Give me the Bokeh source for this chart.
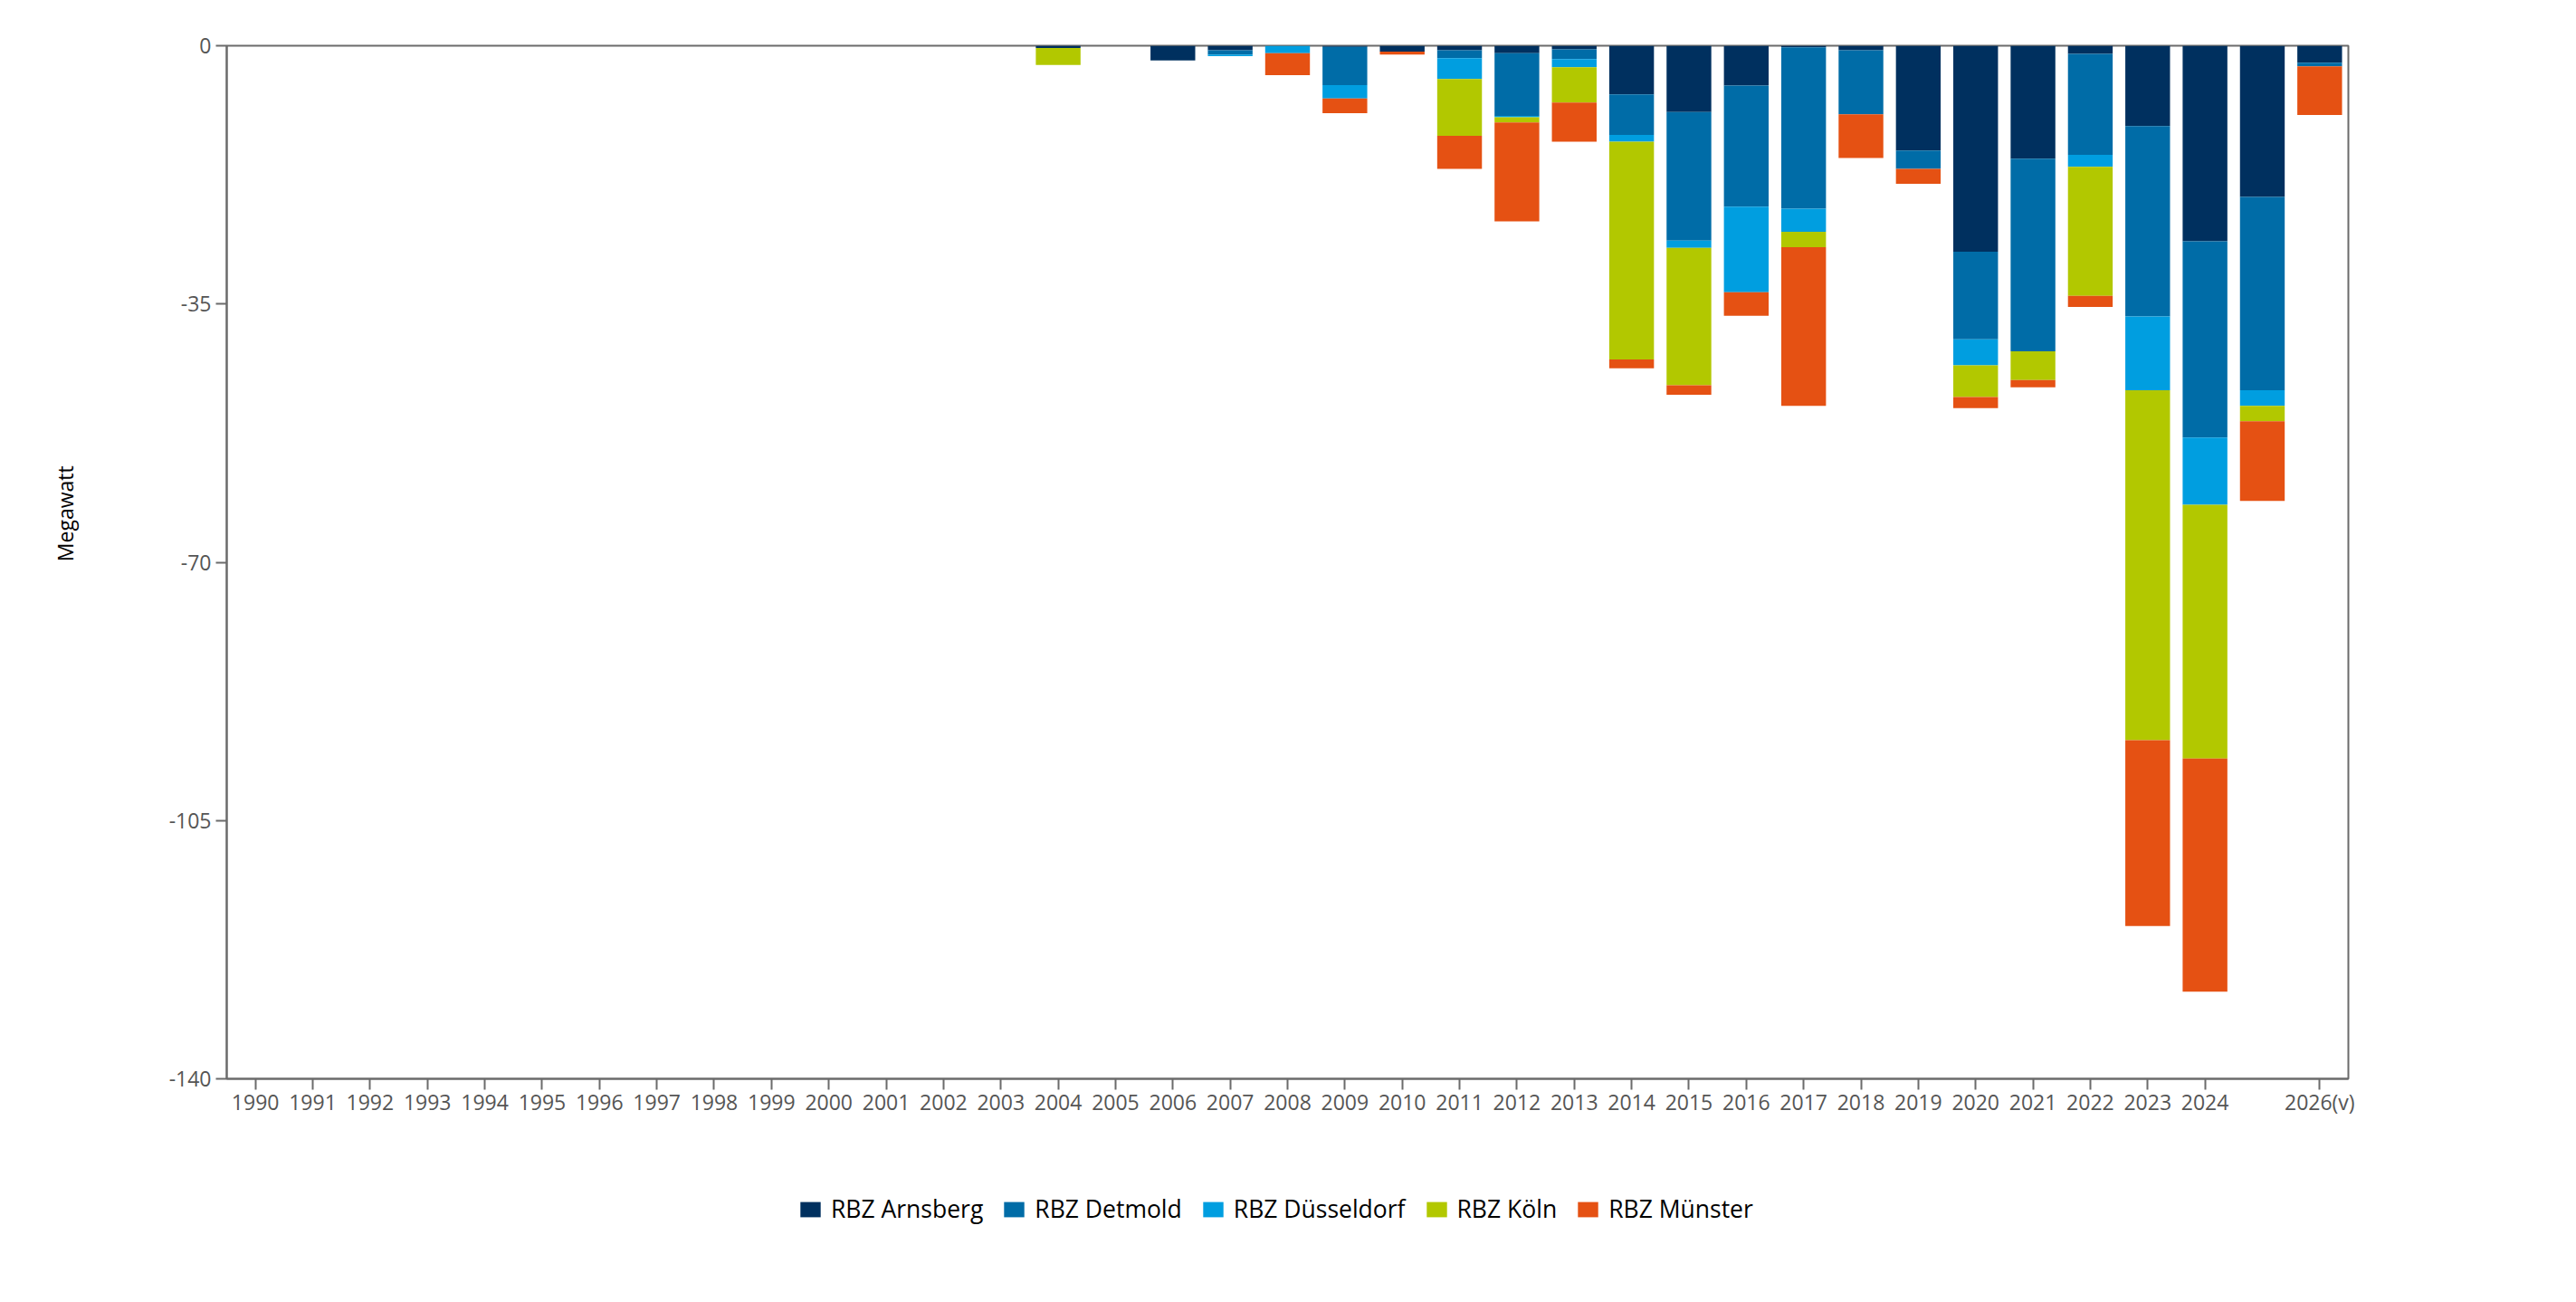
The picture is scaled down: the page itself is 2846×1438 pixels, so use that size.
from bokeh.plotting import figure
from bokeh.layouts import column
from bokeh.models import ColumnDataSource, FixedTicker, Legend, LegendItem, Range1d
from bokeh.embed import file_html
from bokeh.resources import INLINE

# ---------------- data ----------------
years = [1990, 1991, 1992, 1993, 1994, 1995, 1996, 1997, 1998, 1999,
         2000, 2001, 2002, 2003, 2004, 2005, 2006, 2007, 2008, 2009,
         2010, 2011, 2012, 2013, 2014, 2015, 2016, 2017, 2018, 2019,
         2020, 2021, 2022, 2023, 2024, 2025, 2026]
tick_labels = ["1990", "1991", "1992", "1993", "1994", "1995", "1996", "1997", "1998", "1999",
               "2000", "2001", "2002", "2003", "2004", "2005", "2006", "2007", "2008", "2009",
               "2010", "2011", "2012", "2013", "2014", "2015", "2016", "2017", "2018", "2019",
               "2020", "2021", "2022", "2023", "2024", "", "2026(v)"]

series_names = ["RBZ Arnsberg", "RBZ Detmold", "RBZ Düsseldorf", "RBZ Köln", "RBZ Münster"]
colors = ["#00305f", "#006ca7", "#009ee0", "#b2c800", "#e55113"]

arnsberg = [0, 0, 0, 0, 0, 0, 0, 0, 0, 0, 0, 0, 0, 0,
            -0.3, 0, -2.0, -0.6, 0, -0.15, -0.8, -0.6, -1.0, -0.5, -6.6, -9.0, -5.4,
            -0.2, -0.6, -14.2, -27.9, -15.3, -1.1, -10.9, -26.5, -20.5, -2.3]
detmold = [0, 0, 0, 0, 0, 0, 0, 0, 0, 0, 0, 0, 0, 0,
           0, 0, 0, -0.6, 0, -5.2, 0, -1.1, -8.5, -1.3, -5.5, -17.4, -16.4,
           -21.9, -8.7, -2.5, -11.9, -26.1, -13.7, -25.8, -26.6, -26.2, -0.5]
duesseldorf = [0, 0, 0, 0, 0, 0, 0, 0, 0, 0, 0, 0, 0, 0,
               0, 0, 0, -0.2, -1.0, -1.8, 0, -2.8, -0.2, -1.1, -0.9, -1.0, -11.6,
               -3.1, 0, 0, -3.5, 0, -1.6, -10.0, -9.1, -2.1, 0]
koeln = [0, 0, 0, 0, 0, 0, 0, 0, 0, 0, 0, 0, 0, 0,
         -2.3, 0, 0, 0, 0, 0, 0, -7.7, -0.7, -4.8, -29.5, -18.6, 0,
         -2.1, 0, 0, -4.3, -3.9, -17.5, -47.4, -34.4, -2.1, 0]
muenster = [0, 0, 0, 0, 0, 0, 0, 0, 0, 0, 0, 0, 0, 0,
            0, 0, 0, 0, -3.0, -2.0, -0.4, -4.5, -13.4, -5.3, -1.2, -1.3, -3.2,
            -21.5, -5.9, -2.0, -1.5, -1.0, -1.5, -25.2, -31.6, -10.8, -6.6]

y_ticks = [-140, -105, -70, -35, 0]
y_title = "Megawatt"

# ---------------- figure ----------------
FONT = "Open Sans"
GREY = "#6b6b6b"
fields = ["arnsberg", "detmold", "duesseldorf", "koeln", "muenster"]
source = ColumnDataSource(dict(year=years, arnsberg=arnsberg, detmold=detmold,
                               duesseldorf=duesseldorf, koeln=koeln, muenster=muenster))

p = figure(width=2830, height=1251, output_backend="svg", toolbar_location=None,
           x_range=Range1d(1989.5, 2026.5), y_range=Range1d(-140, 0),
           min_border_left=250, min_border_right=236, min_border_top=50,
           min_border_bottom=60)
p.background_fill_color = "white"
p.border_fill_color = "white"
p.outline_line_color = GREY
p.outline_line_width = 2
p.xgrid.visible = False
p.ygrid.visible = False

p.vbar_stack(fields, x="year", width=0.78, source=source, color=colors, line_color=None)

# x axis
tick_years = [y for y, lab in zip(years, tick_labels) if lab != ""]
p.xaxis.ticker = FixedTicker(ticks=tick_years)
p.xaxis.major_label_overrides = {y: lab for y, lab in zip(years, tick_labels) if lab != ""}
p.xaxis.minor_tick_line_color = None
p.xaxis.major_tick_out = 12
p.xaxis.major_tick_in = 0
p.xaxis.major_label_standoff = -3

# y axis (leading no-break spaces lift the rotated title above the axis middle, as in the original)
p.yaxis.ticker = FixedTicker(ticks=y_ticks)
p.yaxis.major_label_overrides = {t: str(t) for t in y_ticks}
p.yaxis.minor_tick_line_color = None
p.yaxis.major_tick_out = 12
p.yaxis.major_tick_in = 0
p.yaxis.major_label_standoff = 5
p.yaxis.axis_label = "\u00a0" * 18 + y_title
p.yaxis.axis_label_standoff = 96
p.yaxis.axis_label_text_font = FONT
p.yaxis.axis_label_text_font_size = "23px"
p.yaxis.axis_label_text_font_style = "normal"
p.yaxis.axis_label_text_color = "#000000"

for ax in (p.xaxis, p.yaxis):
    ax.axis_line_color = GREY
    ax.axis_line_width = 2
    ax.major_tick_line_color = GREY
    ax.major_tick_line_width = 2
    ax.major_label_text_font = FONT
    ax.major_label_text_font_size = "23px"
    ax.major_label_text_color = "#555555"

# ---------------- legend strip ----------------
pl = figure(width=2830, height=160, output_backend="svg", toolbar_location=None,
            x_range=p.x_range, y_range=p.y_range,
            x_axis_location=None, y_axis_location=None,
            min_border=0)
pl.outline_line_color = None
pl.xgrid.visible = False
pl.ygrid.visible = False
pl.background_fill_color = "white"
pl.border_fill_color = "white"
leg_renderers = pl.vbar_stack(fields, x="year", width=0.78, source=source, color=colors,
                              line_color=None, visible=False)

legend = Legend(items=[LegendItem(label=n, renderers=[r]) for n, r in zip(series_names, leg_renderers)],
                orientation="horizontal", location=(631, 58),
                label_text_font=FONT, label_text_font_size="26.5px", label_text_color="#000000",
                glyph_width=28, glyph_height=21, label_standoff=9, spacing=20,
                padding=5, margin=0, border_line_color=None, background_fill_alpha=0,
                inactive_fill_alpha=0)
pl.add_layout(legend, "center")

layout = column(p, pl, spacing=0)
open("out.html", "w").write(file_html(layout, INLINE))
